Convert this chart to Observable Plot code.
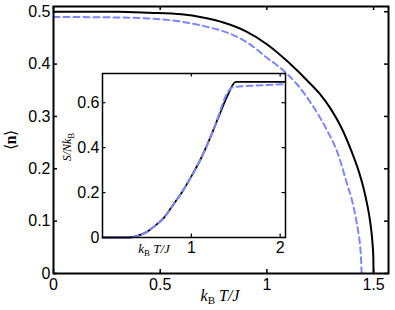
<!DOCTYPE html>
<html>
<head>
<meta charset="utf-8">
<script src="https://cdn.jsdelivr.net/npm/d3@7"></script>
<script src="https://cdn.jsdelivr.net/npm/@observablehq/plot@0.6"></script>
<style>
  html, body { margin: 0; padding: 0; background: white; }
  #wrap { position: relative; width: 395px; height: 310px; }
  #inset { position: absolute; left: 50px; top: 65px; }
  svg { overflow: visible; }
</style>
</head>
<body>
<div id="wrap"><div id="main"></div><div id="inset"></div></div>
<script>
// Main panel: order parameter <n> vs k_B T / J
const mainT_black = [0, 0.3, 0.45, 0.6, 0.7, 0.8, 0.9, 1.0, 1.1, 1.2, 1.25, 1.3, 1.35, 1.4, 1.43, 1.45, 1.47, 1.48, 1.49, 1.495, 1.499, 1.5];
const mainN_black = [0.5, 0.5, 0.498, 0.495, 0.489, 0.479, 0.463, 0.438, 0.404, 0.364, 0.342, 0.314, 0.278, 0.23, 0.196, 0.168, 0.132, 0.11, 0.08, 0.058, 0.03, 0];
const mainT_blue = [0, 0.3, 0.45, 0.6, 0.7, 0.77, 0.85, 0.92, 1.0, 1.05, 1.14, 1.22, 1.28, 1.33, 1.376, 1.4, 1.416, 1.43, 1.436, 1.441, 1.444];
const mainN_blue = [0.49, 0.489, 0.487, 0.481, 0.473, 0.466, 0.454, 0.438, 0.412, 0.397, 0.362, 0.317, 0.275, 0.232, 0.171, 0.138, 0.108, 0.075, 0.057, 0.03, 0];
const mainXTicks = [0, 0.5, 1, 1.5];
const mainYTicks = [0, 0.1, 0.2, 0.3, 0.4, 0.5];

// Inset: entropy S/(N k_B) vs k_B T / J
const insetT_black = [0, 0.3, 0.4, 0.5, 0.6, 0.7, 0.8, 0.9, 1.0, 1.1, 1.2, 1.3, 1.4, 1.5, 2.05];
const insetS_black = [0, 0, 0.008, 0.025, 0.055, 0.092, 0.148, 0.205, 0.272, 0.345, 0.432, 0.53, 0.625, 0.693, 0.693];
const insetT_blue = [0, 0.3, 0.4, 0.5, 0.6, 0.7, 0.8, 0.9, 1.0, 1.1, 1.2, 1.3, 1.35, 1.4, 1.45, 1.5, 1.7, 2.05];
const insetS_blue = [0, 0, 0.008, 0.025, 0.055, 0.092, 0.148, 0.205, 0.272, 0.345, 0.432, 0.535, 0.592, 0.64, 0.665, 0.671, 0.676, 0.682];
const insetXTicks = [1, 2];
const insetYTicks = [0, 0.2, 0.4, 0.6];

const blue = "#7d86ff";
const tickFont = "Liberation Sans, Arial, Helvetica, sans-serif";

// ---- main plot ----
const W = 395, H = 310, mL = 53, mR = 7, mT = 6, mB = 37;
const innerH = H - mT - mB, innerW = W - mL - mR;
const main = Plot.plot({
  width: W, height: H,
  marginLeft: mL, marginRight: mR, marginTop: mT, marginBottom: mB,
  style: {fontFamily: tickFont, fontSize: "16px", background: "transparent", color: "black"},
  x: {domain: [0, 1.57]},
  y: {domain: [0, 0.51]},
  marks: [
    Plot.line(mainT_blue.map((t, i) => ({t, n: mainN_blue[i]})), {x: "t", y: "n", stroke: blue, strokeWidth: 2, strokeDasharray: "6,4", curve: "monotone-x"}),
    Plot.line(mainT_black.map((t, i) => ({t, n: mainN_black[i]})), {x: "t", y: "n", stroke: "black", strokeWidth: 2, curve: "monotone-x"}),
    Plot.tickX(mainXTicks, {x: d => d, insetTop: innerH - 4, stroke: "black", strokeWidth: 1.5}),
    Plot.tickX(mainXTicks, {x: d => d, insetBottom: innerH - 4, stroke: "black", strokeWidth: 1.5}),
    Plot.tickY(mainYTicks, {y: d => d, insetRight: innerW - 4, stroke: "black", strokeWidth: 1.5}),
    Plot.tickY(mainYTicks, {y: d => d, insetLeft: innerW - 4, stroke: "black", strokeWidth: 1.5}),
    Plot.axisX(mainXTicks, {tickSize: 0, tickPadding: 5, label: null, tickFormat: d => String(d), fontSize: 16}),
    Plot.axisY(mainYTicks, {tickSize: 0, tickPadding: 3, label: null, tickFormat: d => String(d), fontSize: 16}),
    Plot.frame({stroke: "black", strokeWidth: 2})
  ]
});
document.getElementById("main").appendChild(main);

// ---- inset plot ----
const iW = 245, iH = 200, iL = 52, iR = 10, iT = 8, iB = 28;
const iInnerH = iH - iT - iB, iInnerW = iW - iL - iR;
const inset = Plot.plot({
  width: iW, height: iH,
  marginLeft: iL, marginRight: iR, marginTop: iT, marginBottom: iB,
  style: {fontFamily: tickFont, fontSize: "16px", background: "transparent", color: "black"},
  x: {domain: [0, 2.06]},
  y: {domain: [0, 0.73]},
  marks: [
    Plot.frame({fill: "white", stroke: "none"}),
    Plot.line(insetT_black.map((t, i) => ({t, s: insetS_black[i]})), {x: "t", y: "s", stroke: "black", strokeWidth: 1.8, curve: "monotone-x"}),
    Plot.line(insetT_blue.map((t, i) => ({t, s: insetS_blue[i]})), {x: "t", y: "s", stroke: blue, strokeWidth: 2, strokeDasharray: "6,4", curve: "monotone-x"}),
    Plot.tickX(insetXTicks, {x: d => d, insetTop: iInnerH - 3.5, stroke: "black", strokeWidth: 1.2}),
    Plot.tickX(insetXTicks, {x: d => d, insetBottom: iInnerH - 3.5, stroke: "black", strokeWidth: 1.2}),
    Plot.tickY(insetYTicks, {y: d => d, insetRight: iInnerW - 3.5, stroke: "black", strokeWidth: 1.2}),
    Plot.tickY(insetYTicks, {y: d => d, insetLeft: iInnerW - 3.5, stroke: "black", strokeWidth: 1.2}),
    Plot.axisX(insetXTicks, {tickSize: 0, tickPadding: 4, label: null, tickFormat: d => String(d), fontSize: 16}),
    Plot.axisY(insetYTicks, {tickSize: 0, tickPadding: 3, label: null, tickFormat: d => String(d), fontSize: 16}),
    Plot.frame({stroke: "black", strokeWidth: 1.5})
  ]
});
document.getElementById("inset").appendChild(inset);

// ---- axis titles with subscripts ----
const serif = "Liberation Serif, Times New Roman, serif";
function kbLabel(svg, x, y, size, rotate) {
  const t = d3.select(svg).append("text")
    .attr("font-family", serif).attr("font-size", size)
    .attr("text-anchor", "middle").attr("fill", "black");
  if (rotate) t.attr("transform", `translate(${x},${y}) rotate(-90)`);
  else t.attr("x", x).attr("y", y);
  return t;
}
// main x label
{
  const t = kbLabel(main, 220, 301, 16, false);
  t.append("tspan").attr("font-style", "italic").text("k");
  t.append("tspan").attr("font-size", 11).attr("dy", 3).text("B");
  t.append("tspan").attr("font-style", "italic").attr("dy", -3).text(" T/J");
}
// main y label
{
  const t = kbLabel(main, 16, 140, 16, true);
  t.append("tspan").text("\u27E8");
  t.append("tspan").attr("font-weight", "bold").text("n");
  t.append("tspan").text("\u27E9");
}
// inset x label
{
  const t = kbLabel(inset, 104, 188, 13, false);
  t.append("tspan").attr("font-style", "italic").text("k");
  t.append("tspan").attr("font-size", 9).attr("dy", 2.5).text("B");
  t.append("tspan").attr("font-style", "italic").attr("dy", -2.5).text(" T/J");
}
// inset y label
{
  const t = kbLabel(inset, 21, 82, 12, true);
  t.append("tspan").attr("font-style", "italic").text("S/Nk");
  t.append("tspan").attr("font-size", 9).attr("dy", 2.5).text("B");
}
</script>
</body>
</html>
